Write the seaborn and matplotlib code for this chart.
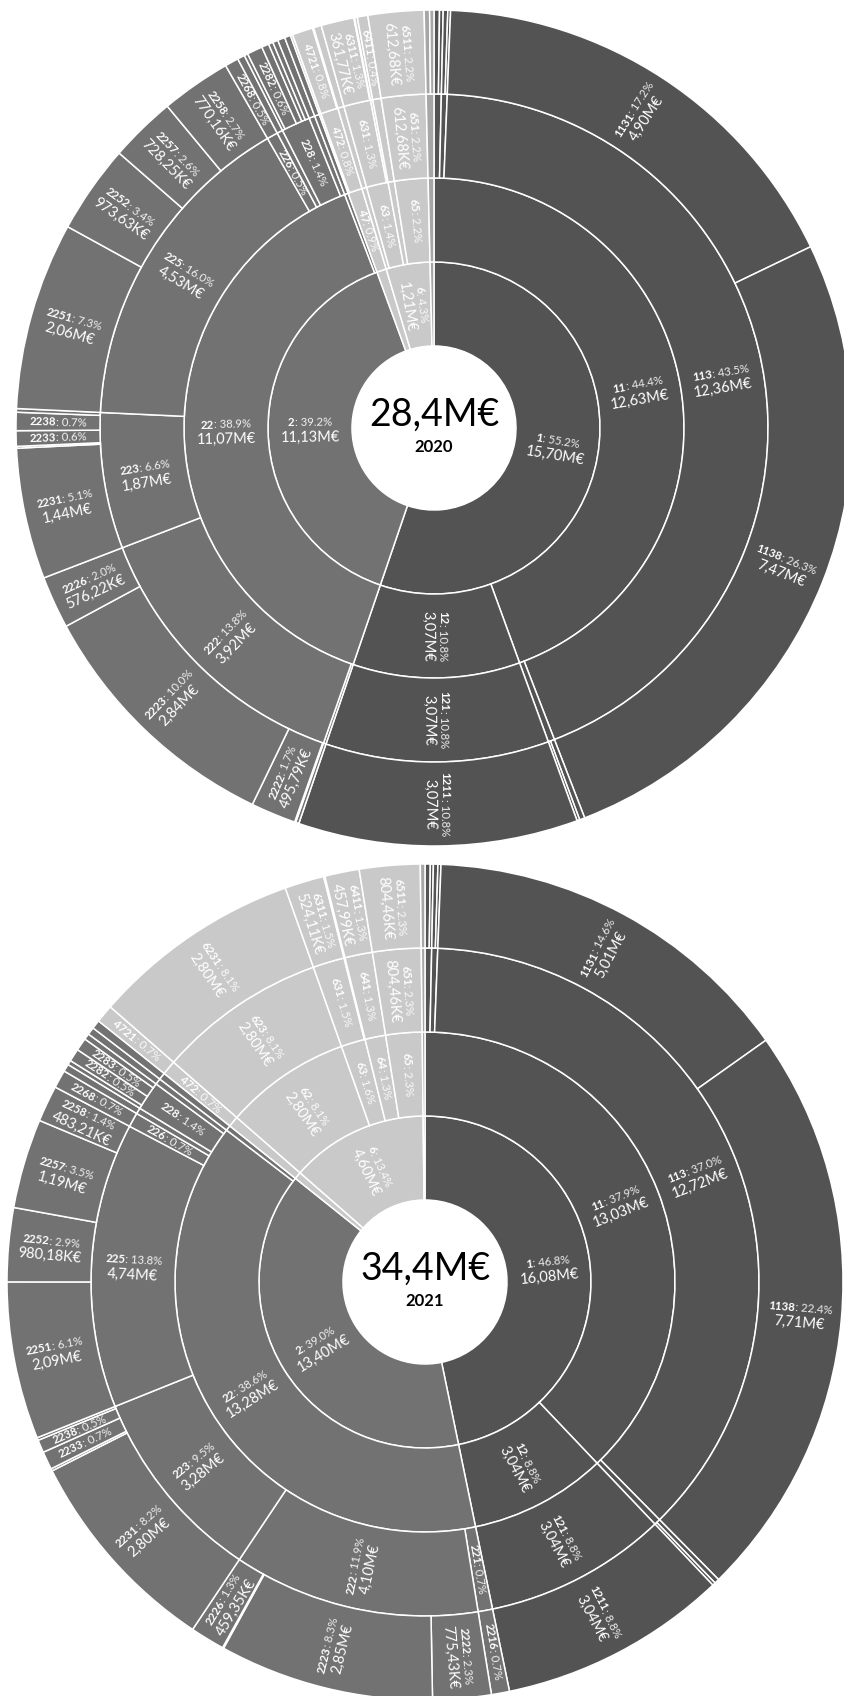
import numpy as np
import matplotlib.pyplot as plt
import seaborn as sns

# Feuilles (niveau 4) dans l'ordre horaire, valeurs en k€.
# Les niveaux 1 a 3 sont obtenus par les prefixes des codes.
codes_2020 = ["1111", "1112", "1121", "1122", "1131", "1138", "1181", "1188", "1211",
              "2211", "2221", "2222", "2223", "2226", "2231", "2232", "2233", "2238", "2239",
              "2251", "2252", "2257", "2258", "2268", "2271", "2281", "2282", "2283", "2284",
              "2288", "2291", "2811",
              "4711", "4721", "4729",
              "6111", "6311", "6312", "6321", "6411", "6511",
              "7111", "7112"]
values_2020 = [60, 40, 50, 30, 4896, 7466, 58, 30, 3070,
               36, 12, 495.79, 2836, 576.22, 1440, 20, 170, 200, 40,
               2062, 973.63, 728.25, 770.16, 150, 80, 40, 170, 80, 50,
               58, 80, 66,
               25, 228, 12,
               86, 361.77, 8.23, 30, 115, 612.68,
               60, 47.28]

codes_2021 = ["1111", "1112", "1121", "1122", "1131", "1138", "1181", "1188", "1211",
              "2216", "2222", "2223", "2224", "2226", "2231", "2232", "2233", "2238", "2239",
              "2251", "2252", "2257", "2258", "2268", "2271", "2281", "2282", "2283", "2288",
              "2291", "2811",
              "4721",
              "6231", "6311", "6321", "6411", "6511",
              "7111"]
values_2021 = [70, 40, 60, 40, 5010, 7710, 64, 40, 3042,
               240, 775.43, 2850, 15.22, 459.35, 2804, 30, 240, 170, 36,
               2090, 980.18, 1190, 483.21, 240, 100, 60, 170, 170, 80,
               100, 116.61,
               240,
               2800, 524.11, 15.89, 457.99, 804.46,
               61.55]

years = ["2020", "2021"]
group_colors = {"1": "#535353", "2": "#727272", "4": "#c9c9c9", "6": "#c9c9c9", "7": "#a6a6a6"}

W, H = 844, 1696
centers = [(434, H - 428), (425, H - 1282)]
HOLE = 82
RING = 84
SMALL, BIG = 8.2, 10.5

sns.set_theme(style="white")
plt.rcParams['font.family'] = ['Lato', 'DejaVu Sans']

fig = plt.figure(figsize=(W / 100, H / 100), dpi=100)
ax = fig.add_axes([0, 0, 1, 1])
renderer = fig.canvas.get_renderer()


def fmt_money(k):
    s = f"{k / 1000:.2f}M€" if k >= 1000 else f"{k:.2f}K€"
    return s.replace(".", ",")


def text_width(s, size, weight):
    t = ax.text(0, 0, s, fontsize=size, fontweight=weight)
    w = t.get_window_extent(renderer).width
    t.remove()
    return w


def ring_data(codes, values, level):
    labs, sums = [], []
    for c, v in zip(codes, values):
        key = c[:level]
        if labs and labs[-1] == key:
            sums[-1] += v
        else:
            labs.append(key)
            sums.append(v)
    return labs, sums


def draw_label(cx, cy, r, theta, code, pct, money, two_lines):
    rad = np.deg2rad(theta)
    p = np.array([cx + r * np.sin(rad), cy + r * np.cos(rad)])
    rot = 90 - theta if theta < 180 else 270 - theta
    u = np.array([np.cos(np.deg2rad(rot)), np.sin(np.deg2rad(rot))])
    v = np.array([-u[1], u[0]])
    head, tail = code, f": {pct:.1f}%"
    w1 = text_width(head, SMALL, 'bold')
    w2 = text_width(tail, SMALL, 'normal')
    start = p + v * (7 if two_lines else 0) - u * (w1 + w2) / 2
    kw = dict(fontsize=SMALL, color='white', rotation=rot, rotation_mode='anchor',
              ha='left', va='center')
    ax.text(start[0], start[1], head, fontweight='bold', **kw)
    q = start + u * w1
    ax.text(q[0], q[1], tail, alpha=0.9, **kw)
    if two_lines:
        m = p - v * 8
        ax.text(m[0], m[1], money, fontsize=BIG, color='white', rotation=rot,
                rotation_mode='anchor', ha='center', va='center')


for (cx, cy), year, codes, values in zip(centers, years,
                                         [codes_2020, codes_2021], [values_2020, values_2021]):
    total = sum(values)
    for level in range(1, 5):
        labs, vals = ring_data(codes, values, level)
        r_out = HOLE + RING * level
        ax.pie(vals, radius=r_out, center=(cx, cy), startangle=90, counterclock=False,
               colors=[group_colors[l[0]] for l in labs],
               wedgeprops=dict(width=RING, edgecolor='white', linewidth=1.1), frame=True)
        r_mid = r_out - RING / 2
        cum = 0
        for lab, val in zip(labs, vals):
            theta = (cum + val / 2) / total * 360
            cum += val
            frac = val / total
            if 2 * np.pi * r_mid * frac < 9.3:
                continue
            two = 2 * np.pi * (r_mid - 20) * frac >= 27.8
            draw_label(cx, cy, r_mid, theta, lab, frac * 100, fmt_money(val), two)

    ax.text(cx, cy + 13, f"{total / 1000:.1f}M€".replace(".", ","), fontsize=27,
            ha='center', va='center', color='black')
    ax.text(cx, cy - 19, year, fontsize=12, fontweight='bold', ha='center', va='center',
            color='black')

ax.set_xlim(0, W)
ax.set_ylim(0, H)
ax.axis('off')
fig.savefig("out.png", dpi=100)
